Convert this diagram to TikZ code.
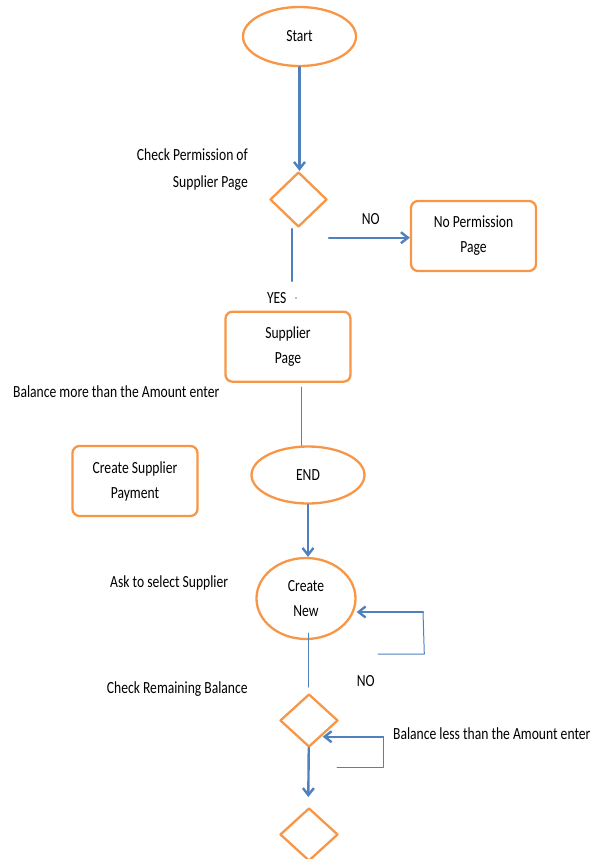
\documentclass[tikz,border=0pt]{standalone}
\usepackage{fontspec}
\setmainfont{Carlito}[FakeStretch=0.8]
\usetikzlibrary{arrows.meta}
\usetikzlibrary{shapes.geometric}
\definecolor{boxorange}{RGB}{247,150,70}
\definecolor{flowblue}{RGB}{79,129,189}
\tikzset{
  term/.style={ellipse,draw=boxorange,line width=2.3pt,inner sep=0pt},
  procbox/.style={draw=boxorange,line width=2.3pt,rounded corners=7pt,minimum width=125,minimum height=70,align=center,font=\fontsize{17}{25}\selectfont},
  decision/.style={diamond,draw=boxorange,line width=2.3pt,inner sep=0pt,minimum width=57,minimum height=55},
  flow/.style={flowblue,line width=2.4pt,-{Straight Barb[length=7pt,width=11pt]}},
  thinflow/.style={flowblue,line width=1pt},
  note/.style={font=\fontsize{17}{27}\selectfont,inner sep=0pt}
}
\begin{document}
\begin{tikzpicture}[line cap=round,line join=round,x=1pt,y=1pt]
\useasboundingbox (0,0) rectangle (599,-859);
% nodes
\node[term,minimum width=113,minimum height=59,font=\fontsize{17}{18}\selectfont] (start) at (299.5,-36.5) {Start};
\node[decision] (perm) at (298.5,-199.5) {};
\node[procbox] (noperm) at (473.5,-236) {No Permission\\Page};
\node[procbox] (supp) at (288,-346.7) {Supplier\\Page};
\node[procbox] (payment) at (135,-481) {Create Supplier\\Payment};
\node[term,minimum width=113,minimum height=57,font=\fontsize{17}{18}\selectfont] (end) at (308,-475) {END};
\node[term,minimum width=99,minimum height=81,align=center,font=\fontsize{17}{25}\selectfont] (new) at (306,-598.5) {Create\\New};
\node[decision,minimum width=58,minimum height=53] (remain) at (309,-720.5) {};
\node[decision,minimum width=58,minimum height=53] (last) at (309,-834.5) {};
% labels
\node[note,anchor=east,align=right] (permtxt) at (248,-169.5) {Check Permission of\\Supplier Page};
\node[note] (yes) at (276.7,-298) {YES};
\node[note] (no1) at (370.7,-219) {NO};
\node[note,anchor=west] (moretxt) at (13,-391.7) {Balance more than the Amount enter};
\node[note,anchor=west] (asktxt) at (110,-583) {Ask to select Supplier};
\node[note] (no2) at (365.7,-680.7) {NO};
\node[note,anchor=west] (checktxt) at (106.7,-689) {Check Remaining Balance};
\node[note,anchor=west] (lesstxt) at (393,-734) {Balance less than the Amount enter};
% loose ends
\coordinate (yestop) at (292,-229);
\coordinate (yesbot) at (292,-281);
\coordinate (nostart) at (329,-237.7);
\coordinate (suppbot) at (301,-387);
\coordinate (newbot) at (308.7,-633);
\coordinate (newin) at (423,-612);
\coordinate (loopa) at (424.3,-654);
\coordinate (loopb) at (378,-654);
\coordinate (remin) at (383,-736.7);
\coordinate (loopc) at (383,-767.7);
\coordinate (loopd) at (337,-767.7);
\coordinate (remtop) at (308.7,-687);
% connectors
\draw[flow] (start) -- (start|-perm.north);
\draw[flowblue,line width=2.4pt] (yestop) -- (yesbot);
\fill[flowblue] (296,-298) circle (0.8);
\draw[flow] (nostart) -- (nostart-|noperm.west);
\draw[thinflow] (suppbot) -- (suppbot|-end.north);
\draw[flow] (end) -- (end|-new.north);
\draw[flow] (newin) -- (newin-|new.east);
\draw[thinflow] (newin) -- (loopa) -- (loopb);
\draw[thinflow] (newbot) -- (remtop);
\draw[flow] (remin) -- (322.7,-736.7);
\draw[thinflow] (remin) -- (loopc) -- (loopd);
\draw[flow] (remain) -- (308.3,-797);
\end{tikzpicture}
\end{document}
